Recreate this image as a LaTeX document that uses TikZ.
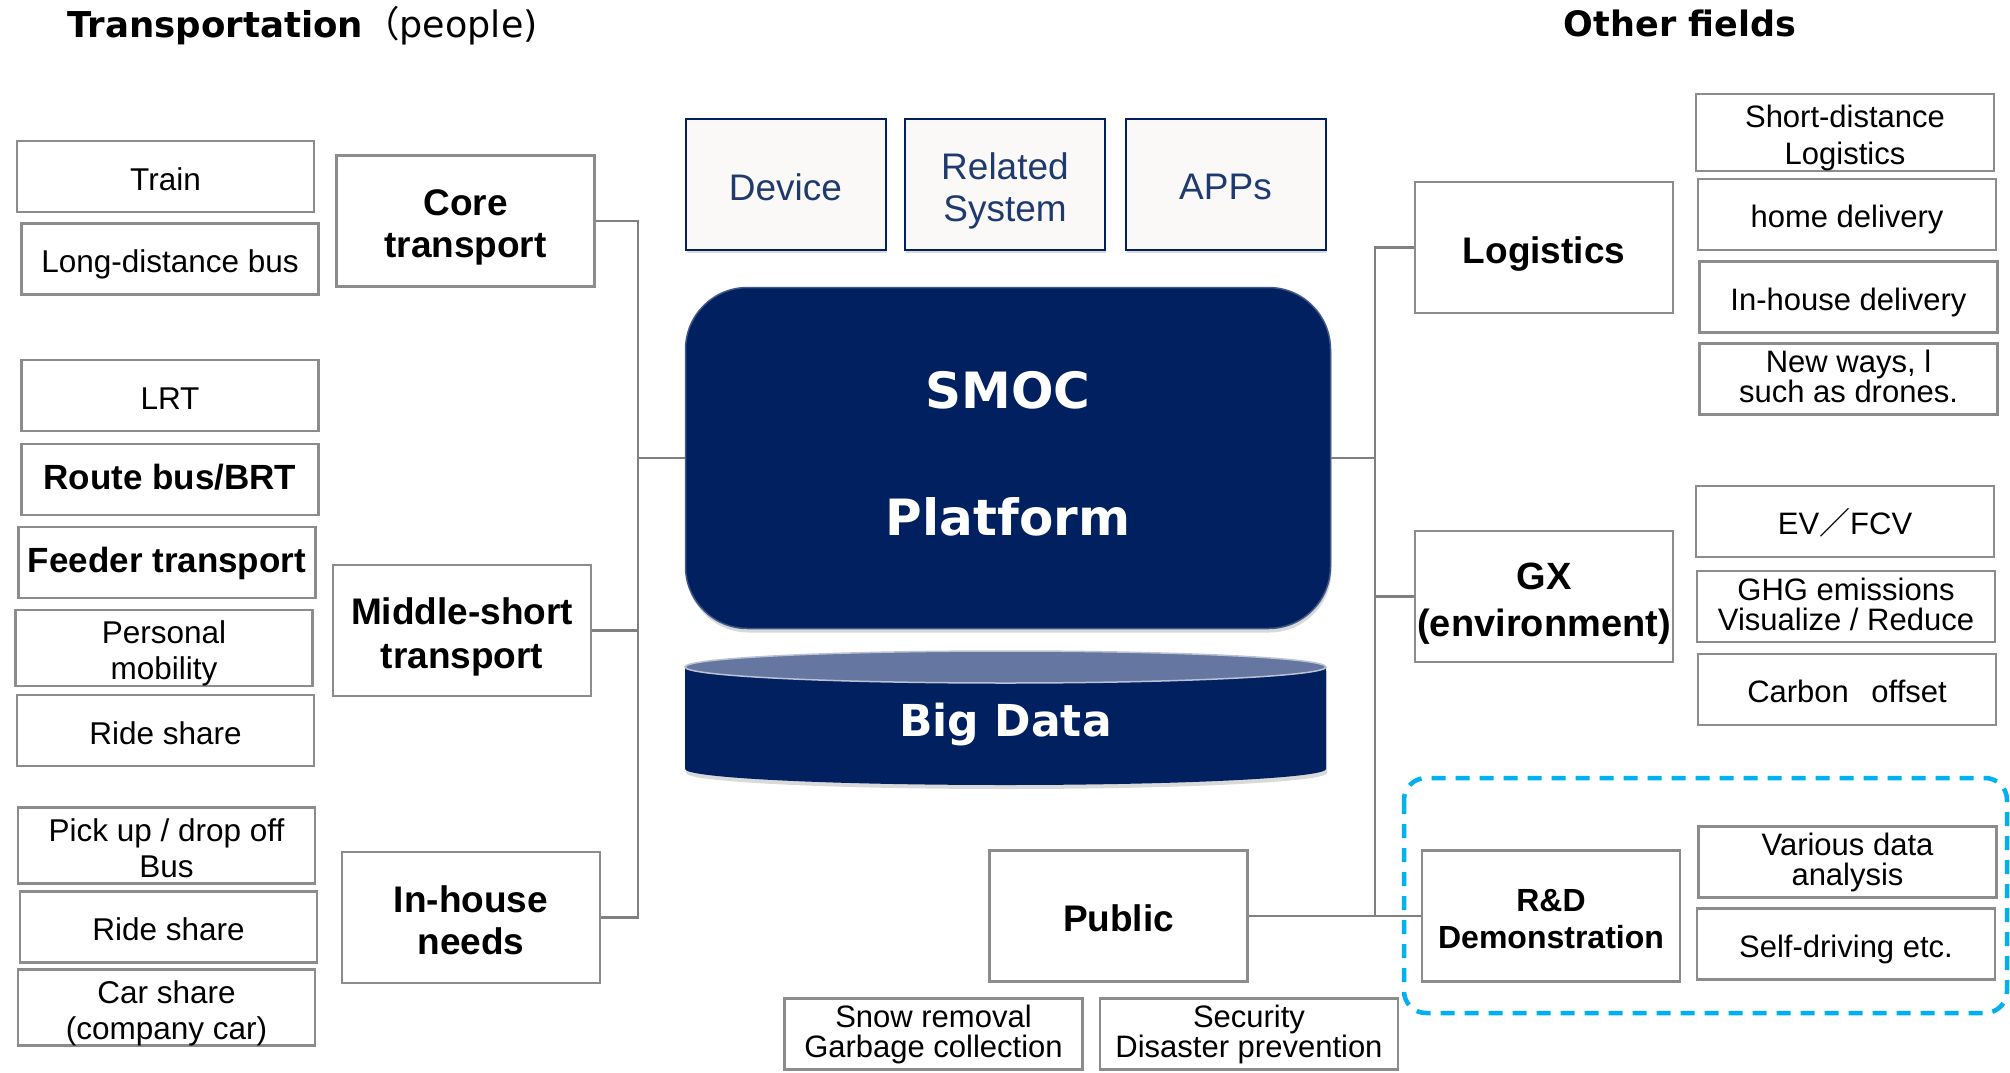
\documentclass[tikz,border=0pt]{standalone}
\usepackage{fontspec}
\setmainfont{Liberation Sans}
\newfontfamily\dvsans{DejaVu Sans}
\newfontfamily\cjk{Noto Sans CJK JP}
\usetikzlibrary{positioning,shadows}
\definecolor{navy}{HTML}{002060}
\definecolor{boxgray}{HTML}{8C8C8C}
\definecolor{linegray}{HTML}{808080}
\definecolor{sysfill}{HTML}{FAF9F7}
\definecolor{systext}{HTML}{1F3A6E}
\definecolor{topblue}{HTML}{6577A0}
\definecolor{cyanline}{HTML}{00B0F0}
% struts for first / last line of box text
\newcommand\topst{\vrule height 1.07em depth 0pt width 0pt}
\newcommand\botst{\vrule height 0pt depth .21em width 0pt}
\newcommand\topsr{\vrule height .86em depth 0pt width 0pt}
\newcommand\botsr{\vrule height 0pt depth .29em width 0pt}

\begin{document}
\begin{tikzpicture}[x=1pt,y=-1pt,
leaf/.style={draw=boxgray,line width=2.5pt,fill=white,minimum width=297pt,
  minimum height=71pt,inner sep=0pt,align=center,font=\fontsize{31.5}{36}\selectfont},
bleaf/.style={leaf,font=\bfseries\fontsize{35}{40}\selectfont},
rleaf/.style={leaf,minimum width=298pt,font=\fontsize{31}{30}\selectfont},
cat/.style={draw=boxgray,line width=2.5pt,fill=white,minimum width=258pt,
  minimum height=131pt,inner sep=0pt,align=center,font=\bfseries\fontsize{37}{42}\selectfont},
sys/.style={draw=navy,line width=2pt,fill=sysfill,text=systext,minimum width=200pt,
  minimum height=131pt,inner sep=0pt,align=center,font=\fontsize{37}{42}\selectfont,
  drop shadow={shadow xshift=1pt,shadow yshift=-3pt,opacity=.3}},
link/.style={draw=linegray,line width=2.5pt}]
\useasboundingbox (0,0) rectangle (2010,1073);

% headings
\node[anchor=base west,inner sep=0pt] (HeadL) at (67,38)
  {{\dvsans\bfseries\fontsize{35.6}{40}\selectfont Transportation}{\cjk\fontsize{36.5}{40}\selectfont （}{\dvsans\fontsize{36.5}{40}\selectfont people)}};
\node[anchor=base,inner sep=0pt,font=\dvsans\bfseries\fontsize{35}{40}\selectfont] (HeadR) at (1680,37) {Other fields};

% transportation (people)
\node[leaf] (Train) at (165.5,176.5) {\topst Train\botst};
\node[leaf] (LDB) at (170,259) {\topst Long-distance bus\botst};
\node[leaf] (LRT) at (170,395.5) {\topst LRT\botst};
\node[bleaf] (RBus) at (170,479.5) {\topsr Route bus/BRT\botsr};
\node[bleaf] (Feed) at (167,562.5) {\topsr Feeder transport\botsr};
\node[leaf] (PM) at (164,648) {\topst Personal\\mobility\botst};
\node[leaf] (RS1) at (165.5,730.5) {\topst Ride share\botst};
\node[leaf] (Pick) at (166.5,845.5) {\topst Pick up / drop off\\Bus\botst};
\node[leaf] (RS2) at (168.5,927) {\topst Ride share\botst};
\node[leaf] (Car) at (166.5,1007.5) {\topst Car share\\(company car)\botst};

\node[cat] (Core) at (465.5,221) {\topst Core\\transport\botst};
\node[cat,font=\bfseries\fontsize{37}{43.5}\selectfont] (Mid) at (462,630.5) {\topst Middle-short\\transport\botst};
\node[cat] (InH) at (471,917.5) {\topst In-house\\needs\botst};

% platform
\node[sys] (Dev) at (785.5,184.5) {\topst Device\botst};
\node[sys] (Rel) at (1005,184.5) {\topst Related\\System\botst};
\node[sys] (App) at (1225.5,184) {\topst APPs\botst};

\node[fill=navy,draw=navy!75!white,line width=1.5pt,rounded corners=62pt,
  minimum width=645pt,minimum height=341pt,text=white,align=center,text depth=10pt,
  font=\dvsans\bfseries\fontsize{50}{127}\selectfont,
  drop shadow={shadow xshift=1pt,shadow yshift=-4pt,opacity=.3}] (Plat) at (1008,458) {SMOC\\Platform};

\fill[navy,drop shadow={shadow xshift=1pt,shadow yshift=-4pt,opacity=.3}]
  (685,667) -- (685,769) arc[start angle=180,end angle=0,x radius=320.5,y radius=16]
  -- (1326,667) -- cycle;
\filldraw[fill=topblue,draw=white!55!topblue,line width=1.5pt]
  (1005.5,667) ellipse[x radius=320.5,y radius=16];
\node[anchor=base,text=white,font=\dvsans\bfseries\fontsize{44}{50}\selectfont] (BD) at (1005.5,736) {Big Data};

% other fields
\draw[cyanline,line width=4.5pt,dash pattern=on 14pt off 10pt,rounded corners=22pt]
  (1404,778) rectangle (2007,1013);

\node[cat] (Log) at (1544,247.5) {\topst Logistics\botst};
\node[cat,font=\bfseries\fontsize{38}{47}\selectfont] (GX) at (1544,596.5) {\topst GX\\(environment)\botst};
\node[cat] (Pub) at (1118.5,916) {\topst Public\botst};
\node[cat,font=\bfseries\fontsize{32}{37}\selectfont] (RD) at (1551,916) {\topst R\&D\\Demonstration\botst};

\node[rleaf,font=\fontsize{31}{37}\selectfont] (SDL) at (1845,132.5) {\topst Short-distance\\Logistics\botst};
\node[rleaf] (Home) at (1847,214.5) {\topst home delivery\botst};
\node[rleaf] (IHD) at (1848.5,297) {\topst In-house delivery\botst};
\node[rleaf,font=\fontsize{31}{28}\selectfont] (New) at (1848.5,379) {\topsr New ways, l\\such as drones.\botsr};
\node[rleaf] (EV) at (1845,521.5) {\topst EV{\cjk ／}FCV\botst};
\node[rleaf] (GHG) at (1846,606.5) {\topsr GHG emissions\\Visualize / Reduce\botsr};
\node[rleaf] (Carb) at (1847,689.5) {\topst Carbon\hspace{14pt} offset\botst};
\node[rleaf] (Var) at (1847.5,862) {\topsr Various data\\analysis\botsr};
\node[rleaf] (Self) at (1846,944) {\topst Self-driving etc.\botst};

\node[rleaf] (Snow) at (933.5,1034) {\topsr Snow removal\\Garbage collection\botsr};
\node[rleaf] (Sec) at (1249,1034) {\topsr Security\\Disaster prevention\botsr};

% connectors
\coordinate (LJ) at (638,458);
\coordinate (RJ) at (1375,458);
\draw[link] (Core.east) -| (LJ);
\draw[link] (Mid.east) -| (LJ);
\draw[link] (InH.east) -| (LJ) -- (Plat.west);
\draw[link] (Log.west) -| (RJ);
\draw[link] (GX.west) -| (RJ) -- (Plat.east);
\draw[link] (Pub.east) -- (RD.west);
\draw[link] (RJ) -- (RJ |- Pub.east);
\end{tikzpicture}
\end{document}
